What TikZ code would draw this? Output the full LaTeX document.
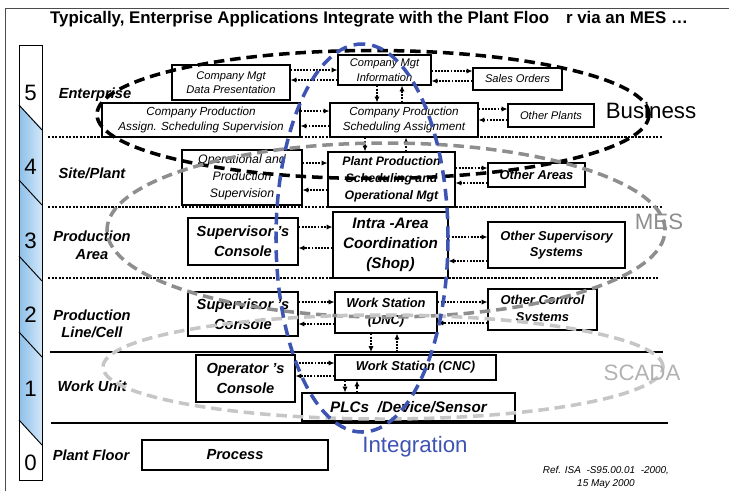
\documentclass[tikz,border=0pt]{standalone}
\usepackage{fontspec}
\setmainfont{Liberation Sans}
\usetikzlibrary{arrows.meta}

\definecolor{mesgray}{HTML}{8E8E8E}
\definecolor{scadagray}{HTML}{C6C6C6}
\definecolor{intblue}{HTML}{3E54B3}
\definecolor{barL}{HTML}{8DBFE8}
\definecolor{barR}{HTML}{D2E7F8}

\tikzset{
  box/.style={draw, line width=0.9pt, fill=white, inner sep=1pt, align=center},
  topbox/.style={box, font=\itshape\fontsize{9.5}{12.5}\selectfont},
  midbox/.style={box, font=\bfseries\itshape\fontsize{11}{14}\selectfont},
  bigbox/.style={box, font=\bfseries\itshape\fontsize{12.5}{17}\selectfont},
  lvlname/.style={align=center, font=\bfseries\itshape\fontsize{12.5}{15}\selectfont},
  barnum/.style={font=\fontsize{19}{19}\selectfont},
  sepline/.style={line width=1.6pt, dash pattern=on 2pt off 1pt},
  solidline/.style={line width=1.6pt},
  flow/.style={line width=1.3pt, dash pattern=on 1.6pt off 1.1pt, ->},
  ring/.style={line width=3pt, dash pattern=on 9pt off 5pt},
  ringname/.style={font=\fontsize{19}{19}\selectfont}
}

\begin{document}
\begin{tikzpicture}[x=0.03cm,y=-0.03cm,>={Latex[length=5pt,width=4.5pt]}]
  \useasboundingbox (0,0) rectangle (729,491);
  \draw[line width=0.8pt, black!70] (5,491) -- (5,8) -- (729,8);
  \node[font=\bfseries\fontsize{14.4}{16}\selectfont] (title) at (369,19)
    {Typically, Enterprise Applications Integrate with the Plant Floo\quad r via an MES \dots};

  % level bar
  \shade[left color=barL, right color=barR] (19,105) -- (42,128) -- (42,445) -- (19,420) -- cycle;
  \draw[line width=0.8pt] (19,45) rectangle (42,480);
  \foreach \y in {105,180,256,332,420}
    \draw[line width=0.8pt] (19,\y) -- (42,\y+25);
  \foreach \n/\y in {5/93,4/167,3/241,2/315,1/389,0/463}
    \node[barnum] (lv\n) at (30.5,\y) {\n};

  % level names
  \node[lvlname] (enterprise) at (95,95) {Enterprise};
  \node[lvlname] (site) at (92,173) {Site/Plant};
  \node[lvlname] (area) at (92,245) {Production\\Area};
  \node[lvlname] (cell) at (92,324) {Production\\Line/Cell};
  \node[lvlname] (unit) at (92,386) {Work Unit};
  \node[lvlname] (floor) at (91,455) {Plant Floor};

  % level borders
  \draw[sepline] (48,137) -- (663,137);
  \draw[sepline] (48,207) -- (663,207);
  \draw[sepline] (48,278) -- (658,278);
  \draw[solidline] (50,352) -- (663,352);
  \draw[solidline] (51,423) -- (668,423);
  \coordinate (cellLine) at (50,352);

  % level 5
  \node[topbox, minimum width=3.54cm, minimum height=1.05cm] (dataPres) at (231,82.5) {Company Mgt\\Data Presentation};
  \node[topbox, minimum width=2.79cm, minimum height=0.9cm] (mgtInfo) at (384.5,70) {Company Mgt\\Information};
  \node[topbox, minimum width=2.67cm, minimum height=0.66cm] (salesOrd) at (517.5,79) {Sales Orders};
  \node[topbox, font=\itshape\fontsize{10}{13}\selectfont, minimum width=5.94cm, minimum height=1.02cm] (assignSup) at (201,120) {Company Production\\Assign. Scheduling Supervision};
  \node[topbox, font=\itshape\fontsize{10}{13}\selectfont, minimum width=4.44cm, minimum height=1.02cm] (schedAssign) at (404,120) {Company Production\\Scheduling Assignment};
  \node[topbox, minimum width=2.58cm, minimum height=0.69cm] (otherPlants) at (551,115.5) {Other Plants};
  % level 4
  \node[box, font=\itshape\fontsize{10.5}{14.5}\selectfont, minimum width=3.6cm, minimum height=1.65cm] (opSup) at (242,177.5) {Operational and\\Production\\Supervision};
  \node[midbox, font=\bfseries\itshape\fontsize{10.5}{14.5}\selectfont, minimum width=3.81cm, minimum height=1.65cm] (plantProd) at (391.5,179.5) {Plant Production\\Scheduling and\\Operational Mgt};
  \node[midbox, minimum width=2.91cm, minimum height=0.72cm] (otherAreas) at (536.5,175) {Other Areas};
  % level 3
  \node[bigbox, minimum width=3.3cm, minimum height=1.41cm] (supCon) at (243,241.5) {Supervisor 's\\Console};
  \node[bigbox, font=\bfseries\itshape\fontsize{13}{17}\selectfont, minimum width=3.45cm, minimum height=1.98cm] (intraArea) at (390.5,245) {Intra -Area\\Coordination\\(Shop)};
  \node[midbox, minimum width=4.11cm, minimum height=1.38cm] (otherSup) at (556.5,245) {Other Supervisory\\Systems};
  % level 2
  \node[bigbox, minimum width=3.3cm, minimum height=1.32cm] (supConB) at (243,314) {Supervisor 's\\Console};
  \node[midbox, minimum width=3.06cm, minimum height=1.23cm] (wsDNC) at (386,312.5) {Work Station\\(DNC)};
  \node[midbox, minimum width=3.27cm, minimum height=1.23cm] (otherCtrl) at (542.5,309.5) {Other Control\\Systems};
  % level 1
  \node[bigbox, minimum width=2.97cm, minimum height=1.41cm] (opCon) at (245.5,378.5) {Operator 's\\Console};
  \node[midbox, minimum width=4.83cm, minimum height=0.75cm] (wsCNC) at (415.5,367.5) {Work Station (CNC)};
  \node[bigbox, font=\bfseries\itshape\fontsize{13}{17}\selectfont, minimum width=6.39cm, minimum height=0.84cm] (plcs) at (408.5,407) {PLCs \ /Device/Sensor};
  % level 0
  \node[bigbox, minimum width=5.58cm, minimum height=0.9cm] (process) at (235,455) {Process};

  % flows between boxes
  \foreach \a/\b/\ya/\yb in {dataPres/mgtInfo/70/80, mgtInfo/salesOrd/71/81,
      assignSup/schedAssign/111/126, schedAssign/otherPlants/109/120,
      opSup/plantProd/163/190, plantProd/otherAreas/168/183,
      supCon/intraArea/227/248, intraArea/otherSup/237/261,
      supConB/wsDNC/302/324, wsDNC/otherCtrl/302/323, opCon/wsCNC/363/376}{
    \draw[flow] (\a.east |- 0,\ya) -- (\b.west |- 0,\ya);
    \draw[flow] (\b.west |- 0,\yb) -- (\a.east |- 0,\yb);
  }
  \foreach \a/\b/\xa/\xb in {mgtInfo/schedAssign/377/402, schedAssign/plantProd/365/406, wsCNC/plcs/345/357}{
    \draw[flow] (\a.south -| \xa,0) -- (\b.north -| \xa,0);
    \draw[flow] (\b.north -| \xb,0) -- (\a.south -| \xb,0);
  }
  \draw[flow] (wsDNC.south -| 371,0) -- (cellLine -| 371,0);
  \draw[flow] (cellLine -| 397,0) -- (wsDNC.south -| 397,0);

  % rings
  \draw[ring] (373,114.5) ellipse [x radius=8.28cm, y radius=1.92cm];
  \draw[ring, mesgray] (386,230) ellipse [x radius=8.37cm, y radius=2.61cm];
  \draw[ring, scadagray] (383,367) ellipse [x radius=8.4cm, y radius=1.56cm];
  \draw[ring, intblue, dash pattern=on 10pt off 6pt] (362,238) ellipse [x radius=2.58cm, y radius=5.82cm];
  \node[ringname] (business) at (651,111) {Business};
  \node[ringname, mesgray] (mes) at (659,222) {MES};
  \node[ringname, scadagray!90!black] (scada) at (642,373) {SCADA};
  \node[ringname, intblue] (integration) at (415,447) {Integration};

  \node[align=center, font=\itshape\fontsize{8.5}{11}\selectfont] (ref) at (606,477) {Ref. ISA \ -S95.00.01 \ -2000,\\15 May 2000};
\end{tikzpicture}
\end{document}
